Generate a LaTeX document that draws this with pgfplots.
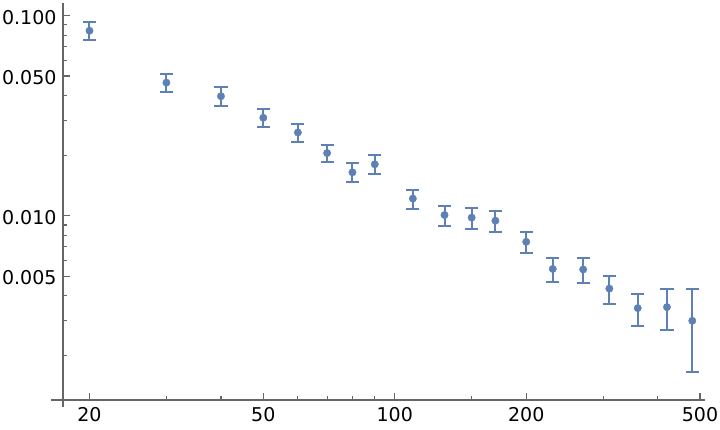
\documentclass[border=0pt]{standalone}
\usepackage{pgfplots}
\pgfplotsset{compat=1.18}
\usepackage{fontspec}
\setmainfont{DejaVu Sans}
\definecolor{mblue}{rgb}{0.368417,0.506779,0.709798}
\definecolor{axcol}{gray}{0.4}
\begin{document}
\begin{tikzpicture}
\useasboundingbox (0,0) rectangle (720pt,430pt);
\begin{axis}[
  at={(63pt,30pt)}, anchor=south west,
  scale only axis, width=642pt, height=397pt,
  xmode=log, ymode=log,
  xmin=17.395, xmax=513.3, ymin=0.0012023, ymax=0.11574,
  axis x line*=bottom, axis y line*=left,
  axis line style={axcol, line width=1.1pt},
  every tick/.style={axcol, line width=1.1pt},
  tick align=inside,
  major tick length=7pt, minor tick length=4pt,
  xtick={20,50,100,200,500}, xticklabels={20,50,100,200,500},
  minor xtick={30,40,60,70,80,90,150,300,400},
  ytick={0.005,0.01,0.05,0.1}, yticklabels={0.005,0.010,0.050,0.100},
  minor ytick={0.002,0.003,0.004,0.006,0.007,0.008,0.009,0.02,0.03,0.04,0.06,0.07,0.08,0.09},
  tick label style={font=\fontsize{19}{22}\selectfont, black},
  xticklabel style={yshift=-4pt},
  yticklabel style={xshift=-3pt, yshift=-1.5pt},
  clip=false,
]
\addplot[only marks, mark=*, mark size=3.7pt, color=mblue, mark options={mblue},
  error bars/.cd, y dir=both, y explicit,
  error bar style={line width=2pt, mblue},
  error mark=-,
  error mark options={rotate=90, line width=2pt, mark size=6.6pt, mblue}]
table[x=x, y=y, y error=e]{
x y e
20 0.0841 0.0088
30 0.0463 0.0049
40 0.0396 0.0042
50 0.0309 0.0032
60 0.0261 0.0028
70 0.0206 0.0021
80 0.0165 0.0018
90 0.0181 0.0020
110 0.0122 0.00133
130 0.0101 0.00116
150 0.0098 0.00118
170 0.00946 0.00117
200 0.00742 0.00093
230 0.00543 0.00076
270 0.00540 0.00077
310 0.00433 0.00069
360 0.00346 0.00063
420 0.00350 0.00082
480 0.00299 0.00133
};
\draw[axcol, line width=1.1pt] ([xshift=-12pt]rel axis cs:0,0) -- (rel axis cs:0,0);
\draw[axcol, line width=1.1pt] ([yshift=-7pt]rel axis cs:0,0) -- (rel axis cs:0,0);
\end{axis}
\end{tikzpicture}
\end{document}
